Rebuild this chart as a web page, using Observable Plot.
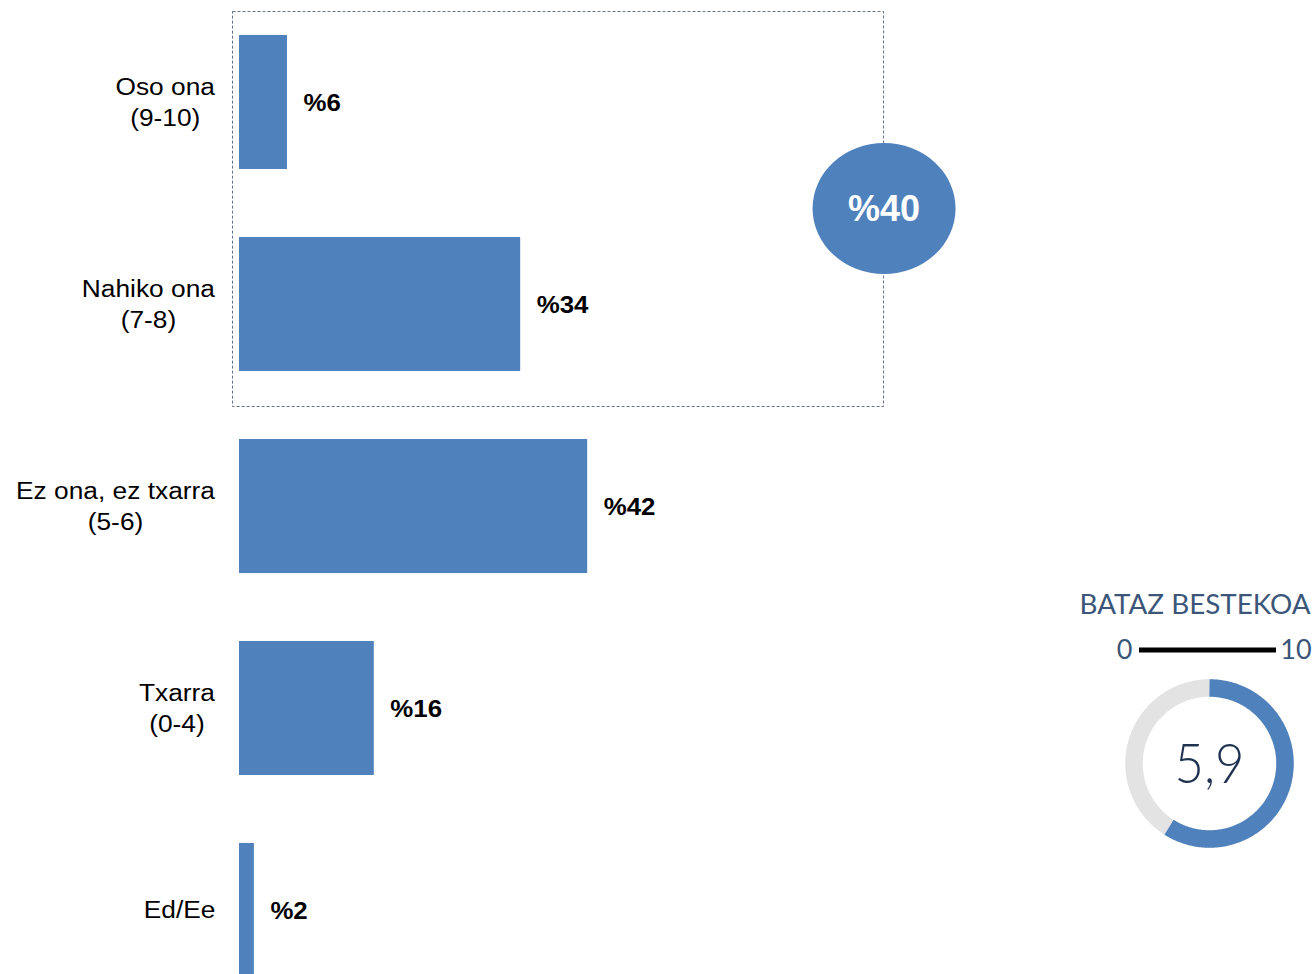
<!DOCTYPE html>
<html>
<head>
<meta charset="utf-8">
<script src="https://cdn.jsdelivr.net/npm/d3@7"></script>
<script src="https://cdn.jsdelivr.net/npm/@observablehq/plot@0.6"></script>
<style>
  html, body { margin: 0; padding: 0; background: #fff; overflow: hidden; }
  #wrap { position: relative; width: 1316px; height: 974px; overflow: hidden; }
  #gauge { position: absolute; left: 1076px; top: 580px; }
</style>
</head>
<body>
<div id="wrap"><div id="main"></div><div id="gauge"></div></div>
<script>
// ---- data ----
const categories = ["Oso ona\n(9-10)", "Nahiko ona\n(7-8)", "Ez ona, ez txarra\n(5-6)", "Txarra\n(0-4)", "Ed/Ee"];
const values = [5.8, 34.0, 42.1, 16.3, 1.8];
const groupMembers = ["Oso ona\n(9-10)", "Nahiko ona\n(7-8)"];
const meanTitle = ["BATAZ BESTEKOA"];
const meanValue = [5.9];
const meanScale = [0, 10];

const BLUE = "#4f81bd";
const data = categories.map((c, i) => ({cat: c, value: values[i]}));
const groupTotal = Math.round(d3.sum(data.filter(d => groupMembers.includes(d.cat)), d => d.value));

const plot = Plot.plot({
  width: 1316,
  height: 974,
  margin: 0,
  style: {fontFamily: "'Liberation Sans', Arial, sans-serif", background: "transparent", overflow: "visible"},
  x: {domain: [0, 100], range: [239, 1066], axis: null},
  y: {type: "band", domain: categories, range: [1, 1011], paddingInner: 0.337, paddingOuter: 0.1685, axis: null},
  marks: [
    Plot.barX(data, {x: "value", y: "cat", fill: BLUE}),
    Plot.text(data, {x: 0, y: "cat", text: "cat", textAnchor: "end", dx: -24, dy: -2, fontSize: 23.5, lineHeight: 1.32, fill: "#000", ariaDescription: "cat-labels"}),
    Plot.text(data, {x: "value", y: "cat", text: d => "%" + Math.round(d.value), textAnchor: "start", dx: 16, dy: 1, fontSize: 23.5, fontWeight: "bold", fill: "#000", ariaDescription: "value-labels"})
  ]
});
document.getElementById("main").appendChild(plot);

function stretch(sel, k, centerLines) {
  sel.each(function() {
    let t = this.getAttribute("transform");
    if (!t) {
      const x = +(this.getAttribute("x") || 0);
      t = `translate(${x},0)`;
      this.setAttribute("x", 0);
    }
    let extra = "";
    if (centerLines) {
      const w = this.getBBox().width;
      this.setAttribute("text-anchor", "middle");
      d3.select(this).selectAll("tspan").attr("text-anchor", "middle");
      extra = ` translate(${-w / 2},0)`;
    }
    this.setAttribute("transform", t + ` scale(${k},1)` + extra);
  });
}
const svg = d3.select(plot);
stretch(svg.selectAll('g[aria-description="cat-labels"] text'), 1.12, true);
stretch(svg.selectAll('g[aria-description="value-labels"] text'), 1.1, false);

// group box with total bubble
const xs = plot.scale("x"), ys = plot.scale("y");
const bx0 = xs.apply(0) - 7, bx1 = xs.apply(78);
const by0 = ys.apply(groupMembers[0]) - 24;
const by1 = ys.apply(groupMembers[groupMembers.length - 1]) + ys.bandwidth + 35;
const g = svg.append("g");
g.append("rect").attr("x", bx0 + 0.5).attr("y", by0 + 0.5).attr("width", bx1 - bx0 - 1).attr("height", by1 - by0)
  .attr("fill", "none").attr("stroke", "#62728a").attr("stroke-width", 1).attr("stroke-dasharray", "3 2");
const cy = (by0 + by1) / 2;
g.append("ellipse").attr("cx", bx1).attr("cy", cy).attr("rx", 71.5).attr("ry", 65.5).attr("fill", BLUE);
g.append("text").attr("x", bx1).attr("y", cy).attr("text-anchor", "middle").attr("dy", "0.36em")
  .attr("font-size", 36).attr("font-weight", "bold").attr("fill", "#fff").text("%" + groupTotal);

// ---- gauge ----
const cx = 133, gcy = 183, R = 75.5;
const frac = meanValue[0] / (meanScale[1] - meanScale[0]);
const ringPts = d3.range(0, 361).map(a => ({x: cx + R * Math.sin(a * Math.PI / 180), y: gcy - R * Math.cos(a * Math.PI / 180)}));
const nArc = 200;
const arcPts = d3.range(0, nArc + 1).map(i => {
  const a = frac * 2 * Math.PI * i / nArc;
  return {x: cx + R * Math.sin(a), y: gcy - R * Math.cos(a)};
});
const gauge = Plot.plot({
  width: 240, height: 290, margin: 0,
  style: {fontFamily: "Lato, sans-serif", background: "transparent", overflow: "visible"},
  x: {domain: [0, 240], range: [0, 240], axis: null},
  y: {domain: [0, 290], range: [0, 290], axis: null},
  marks: [
    Plot.text(meanTitle, {x: 118.5, y: 25, text: d => d, fontSize: 26, fontWeight: 400, fill: "#3b5679", ariaDescription: "gauge-title"}),
    Plot.ruleY([69.5], {x1: 63, x2: 200, stroke: "#000", strokeWidth: 5}),
    Plot.text([meanScale[0]], {x: 48, y: 70, text: d => String(d), fontSize: 27, fontWeight: 400, fill: "#3b5679"}),
    Plot.text([meanScale[1]], {x: 219.5, y: 70, text: d => String(d), fontSize: 27, fontWeight: 400, fill: "#3b5679"}),
    Plot.line(ringPts, {x: "x", y: "y", stroke: "#e3e3e3", strokeWidth: 17.5, strokeLinecap: "butt"}),
    Plot.line(arcPts, {x: "x", y: "y", stroke: BLUE, strokeWidth: 17.5, strokeLinecap: "butt"}),
    Plot.text(meanValue, {x: cx, y: gcy + 2, text: d => d.toFixed(1).replace(".", ","), fontSize: 56, fontWeight: 300, fill: "#1f3350", ariaDescription: "gauge-value"})
  ]
});
document.getElementById("gauge").appendChild(gauge);
const gs = d3.select(gauge);
gs.selectAll('g[aria-description="gauge-title"] text').attr("textLength", 231).attr("lengthAdjust", "spacingAndGlyphs");
gs.selectAll('g[aria-description="gauge-value"] text').attr("textLength", 70).attr("lengthAdjust", "spacingAndGlyphs");
</script>
</body>
</html>
